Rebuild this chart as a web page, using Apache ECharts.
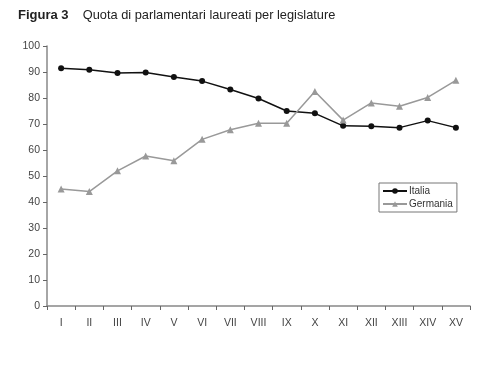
<!DOCTYPE html>
<html><head><meta charset="utf-8">
<script src="https://cdn.jsdelivr.net/npm/echarts@6/dist/echarts.min.js"></script>
<style>html,body{margin:0;padding:0;background:#fff}#c{width:500px;height:369px}</style>
</head><body><div id="c"></div>
<script>
const categories = ['I','II','III','IV','V','VI','VII','VIII','IX','X','XI','XII','XIII','XIV','XV'];
const italia =   [91.4, 90.9, 89.6, 89.8, 88.1, 86.5, 83.3, 79.8, 75.0, 74.1, 69.3, 69.1, 68.6, 71.3, 68.6];
const germania = [45.0, 44.0, 52.0, 57.7, 55.9, 64.1, 67.8, 70.3, 70.3, 82.5, 71.5, 78.1, 76.8, 80.2, 86.8];
const yTicks = [0, 10, 20, 30, 40, 50, 60, 70, 80, 90, 100];

const chart = echarts.init(document.getElementById('c'), null, {renderer: 'canvas'});
const fontF = '"Liberation Sans Narrow", "Liberation Sans", Arial, sans-serif';
chart.setOption({
  backgroundColor: '#fff',
  animation: false,
  title: {
    left: 18, top: 9, padding: 0,
    text: '{b|Figura 3}{n|    Quota di parlamentari laureati per legislature}',
    textStyle: {
      fontWeight: 'normal',
      rich: {
        b: {fontFamily: fontF, fontWeight: 'bold', fontSize: 13, color: '#222'},
        n: {fontFamily: fontF, fontWeight: 'normal', fontSize: 12.8, color: '#222'}
      }
    }
  },
  legend: {
    orient: 'vertical',
    left: 379, top: 183,
    padding: [3, 4, 3, 3],
    itemGap: 3,
    itemWidth: 24, itemHeight: 7,
    borderColor: '#777', borderWidth: 1,
    textStyle: {fontFamily: fontF, fontSize: 10, color: '#333', padding: [0,0,0,-3]},
    data: ['Italia', 'Germania']
  },
  grid: {left: 47, right: 30, top: 46, bottom: 63},
  xAxis: {
    type: 'category',
    data: categories,
    boundaryGap: true,
    axisLine: {lineStyle: {color: '#888', width: 1.5}},
    axisTick: {show: true, inside: false, length: 4, lineStyle: {color: '#666'}},
    axisLabel: {fontFamily: fontF, fontSize: 10.5, color: '#444', margin: 12}
  },
  yAxis: {
    type: 'value',
    min: 0, max: 100, interval: 10,
    axisLine: {show: true, lineStyle: {color: '#888', width: 1.5}},
    axisTick: {show: true, length: 4, lineStyle: {color: '#666'}},
    splitLine: {show: false},
    axisLabel: {fontFamily: fontF, fontSize: 10.5, color: '#444', margin: 7,
      formatter: v => yTicks.includes(v) ? String(v) : ''}
  },
  series: [
    {
      name: 'Italia', type: 'line', data: italia,
      symbol: 'circle', symbolSize: 6,
      lineStyle: {color: '#111', width: 1.5},
      itemStyle: {color: '#111'}
    },
    {
      name: 'Germania', type: 'line', data: germania,
      symbol: 'triangle', symbolSize: 7,
      lineStyle: {color: '#999', width: 1.5},
      itemStyle: {color: '#999'}
    }
  ]
});
</script></body></html>
